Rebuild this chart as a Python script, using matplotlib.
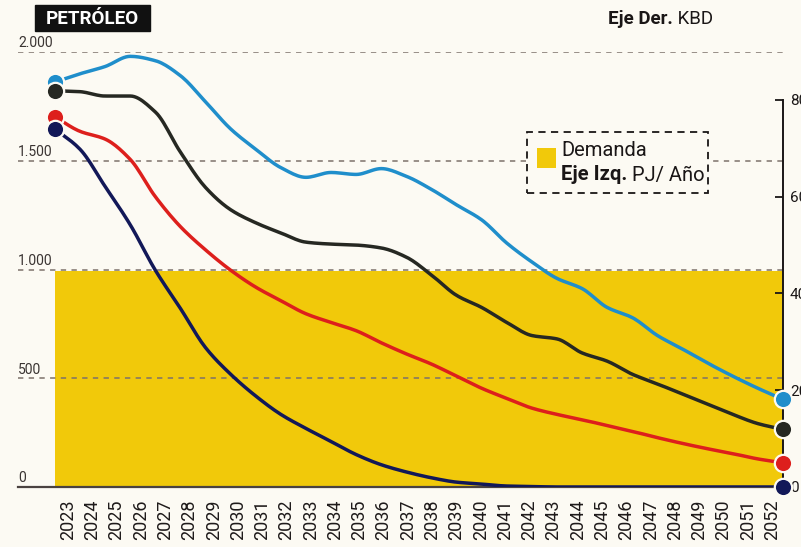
import matplotlib
matplotlib.use('Agg')
import matplotlib.pyplot as plt
import numpy as np
from matplotlib.patches import Rectangle
from matplotlib.text import Annotation

# ---------------- data ----------------
years = list(range(2023, 2053))
year_labels = [str(y) for y in years]

# Demanda (Eje Izq., PJ/Año)
demanda = [995, 995, 995, 995, 995, 995, 995, 995, 995, 995,
           995, 995, 995, 995, 995, 995, 995, 995, 995, 995,
           995, 995, 995, 995, 995, 995, 995, 995, 995, 995]

# Series on the right axis (KBD)
serie_cian = [83.7, 85.4, 86.9, 89.0, 88.1, 85.0, 79.6, 74.0, 69.8, 66.0,
              64.0, 65.0, 64.6, 65.8, 64.2, 61.5, 58.3, 55.2, 50.4, 46.5,
              43.1, 41.0, 37.1, 35.0, 31.3, 28.5, 25.6, 22.9, 20.4, 18.1]
serie_negra = [81.9, 81.7, 80.8, 80.8, 77.5, 69.2, 61.9, 57.3, 54.6, 52.5,
               50.6, 50.2, 50.0, 49.4, 47.5, 43.8, 39.6, 37.1, 34.0, 31.3,
               30.6, 27.7, 26.0, 23.3, 21.3, 19.2, 17.1, 15.0, 13.1, 11.9]
serie_roja = [76.5, 73.5, 71.9, 67.7, 60.0, 53.8, 49.0, 44.8, 41.3, 38.5,
              35.8, 34.0, 32.3, 29.8, 27.5, 25.4, 22.9, 20.4, 18.3, 16.3,
              15.0, 13.9, 12.7, 11.5, 10.2, 9.0, 7.9, 6.9, 5.8, 5.0]
serie_azul = [74.0, 69.8, 62.1, 54.2, 44.8, 36.9, 28.8, 23.3, 18.8, 15.0,
              12.1, 9.4, 6.7, 4.6, 3.1, 1.9, 1.0, 0.6, 0.2, 0.1,
              0.0, 0.0, 0.0, 0.0, 0.0, 0.0, 0.0, 0.0, 0.0, 0.0]

left_ticks = [0, 500, 1000, 1500, 2000]
left_tick_labels = ['0', '500', '1.000', '1.500', '2.000']
right_ticks = [0, 20, 40, 60, 80]

# ---------------- style ----------------
BG = '#fcfaf3'
YELLOW = '#f1c90a'
GRID = '#7d716b'
C_CIAN = '#1f8ecb'
C_NEGRA = '#262822'
C_ROJA = '#dd1f1c'
C_AZUL = '#121858'
INK = '#1a1616'

plt.rcParams['font.family'] = ['Roboto', 'DejaVu Sans']


def smooth_path(x, y, n=12):
    """Shape-preserving cubic (PCHIP) path through the data points, for drawing."""
    x = np.asarray(x, float)
    y = np.asarray(y, float)
    h = np.diff(x)
    d = np.diff(y) / h
    m = np.zeros_like(y)
    for k in range(1, len(y) - 1):
        if d[k - 1] * d[k] <= 0:
            m[k] = 0.0
        else:
            w1 = 2 * h[k] + h[k - 1]
            w2 = h[k] + 2 * h[k - 1]
            m[k] = (w1 + w2) / (w1 / d[k - 1] + w2 / d[k])
    m[0] = d[0]
    m[-1] = d[-1]
    xs, ys = [], []
    for k in range(len(x) - 1):
        t = np.linspace(0, 1, n, endpoint=False)
        h00 = 2 * t**3 - 3 * t**2 + 1
        h10 = t**3 - 2 * t**2 + t
        h01 = -2 * t**3 + 3 * t**2
        h11 = t**3 - t**2
        xs.append(x[k] + t * h[k])
        ys.append(h00 * y[k] + h10 * h[k] * m[k] + h01 * y[k + 1] + h11 * h[k] * m[k + 1])
    xs.append([x[-1]])
    ys.append([y[-1]])
    return np.concatenate(xs), np.concatenate(ys)


W, H = 801, 547
fig = plt.figure(figsize=(W / 100, H / 100), dpi=100)
fig.patch.set_facecolor(BG)


def fx(px):
    return px / W


def fy(py):
    return 1 - py / H


ax = fig.add_axes([fx(18), fy(487), fx(783) - fx(18), fy(52) - fy(487)])
ax.set_facecolor('none')
ax.set_xlim(2021.53, 2052)
ax.set_ylim(0, 2000)

ax.fill_between(years, 0, demanda, color=YELLOW, lw=0, zorder=1)
for v in [500, 1000, 1500, 2000]:
    ax.axhline(v, color=GRID, ls=(0, (3.5, 3.5)), lw=1.1, zorder=2)

for s in ['top', 'left', 'right']:
    ax.spines[s].set_visible(False)
ax.spines['bottom'].set_color('#4a4240')
ax.spines['bottom'].set_linewidth(1.6)
ax.spines['bottom'].set_zorder(3)
ax.set_yticks([])

for v, lab in zip(left_ticks, left_tick_labels):
    ax.text(0.0, v + 8, lab, transform=ax.get_yaxis_transform(),
            ha='left', va='bottom', fontsize=10, color='#3a3432')

# x tick labels (slightly condensed spacing as in the print)
tick_pos = [2023 + 0.52 + (y - 2023) * 0.967 for y in years]
ax.set_xticks(tick_pos)
ax.set_xticklabels(year_labels, rotation=90, fontsize=13, color='#1e1a1a')
ax.tick_params(axis='x', length=0, pad=9)

# right axis
ax2 = ax.twinx()
ax2.set_ylim(0, 89.9)
for s in ['top', 'left', 'bottom']:
    ax2.spines[s].set_visible(False)
ax2.spines['right'].set_bounds(0, 80)
ax2.spines['right'].set_linewidth(1.4)
ax2.spines['right'].set_color(INK)
ax2.set_yticks(right_ticks)
ax2.tick_params(axis='y', direction='in', length=6, width=1.3,
                labelsize=11, pad=5, colors=INK)

series = [(serie_cian, C_CIAN), (serie_negra, C_NEGRA),
          (serie_roja, C_ROJA), (serie_azul, C_AZUL)]
for vals, col in series:
    sx, sy = smooth_path(years, vals)
    ax2.plot(sx, sy, color=col, lw=2.5, solid_capstyle='round',
             solid_joinstyle='round', zorder=4)
    ax2.plot([years[0], years[-1]], [vals[0], vals[-1]], ls='none',
             marker='o', ms=12.5, mfc=col, mec=BG, mew=1.6,
             zorder=5, clip_on=False)

# title box
fig.patches.append(Rectangle((fx(35), fy(31)), fx(150) - fx(35), fy(5) - fy(31),
                             transform=fig.transFigure, color='#111111', zorder=5))
fig.text(fx(92.5), fy(18.5), 'PETRÓLEO', color='white', fontsize=13.5,
         fontweight='bold', ha='center', va='center', zorder=6)

# right axis title
t1 = fig.text(fx(608), fy(19), 'Eje Der.', fontsize=13.5, fontweight='bold',
              ha='left', va='center', color=INK, zorder=6)
fig.add_artist(Annotation(' KBD', xy=(1, 0), xycoords=t1, ha='left', va='bottom',
                          fontsize=13.5, color=INK, annotation_clip=False, zorder=6))

# legend box
fig.patches.append(Rectangle((fx(527), fy(193)), fx(708) - fx(527), fy(132) - fy(193),
                             transform=fig.transFigure, facecolor=BG,
                             edgecolor=INK, lw=1.3, ls=(0, (4, 3)), zorder=5))
fig.patches.append(Rectangle((fx(537), fy(168)), fx(556) - fx(537), fy(148) - fy(168),
                             transform=fig.transFigure, facecolor=YELLOW,
                             lw=0, zorder=6))
fig.text(fx(561), fy(151), 'Demanda', fontsize=14.5, ha='left', va='center',
         color=INK, zorder=7)
t2 = fig.text(fx(561), fy(175), 'Eje Izq.', fontsize=14.5, fontweight='bold',
              ha='left', va='center', color=INK, zorder=7)
fig.add_artist(Annotation(' PJ/ Año', xy=(1, 0), xycoords=t2, ha='left', va='bottom',
                          fontsize=14.5, color=INK, annotation_clip=False, zorder=7))

fig.savefig('out.png', dpi=100, facecolor=BG)
